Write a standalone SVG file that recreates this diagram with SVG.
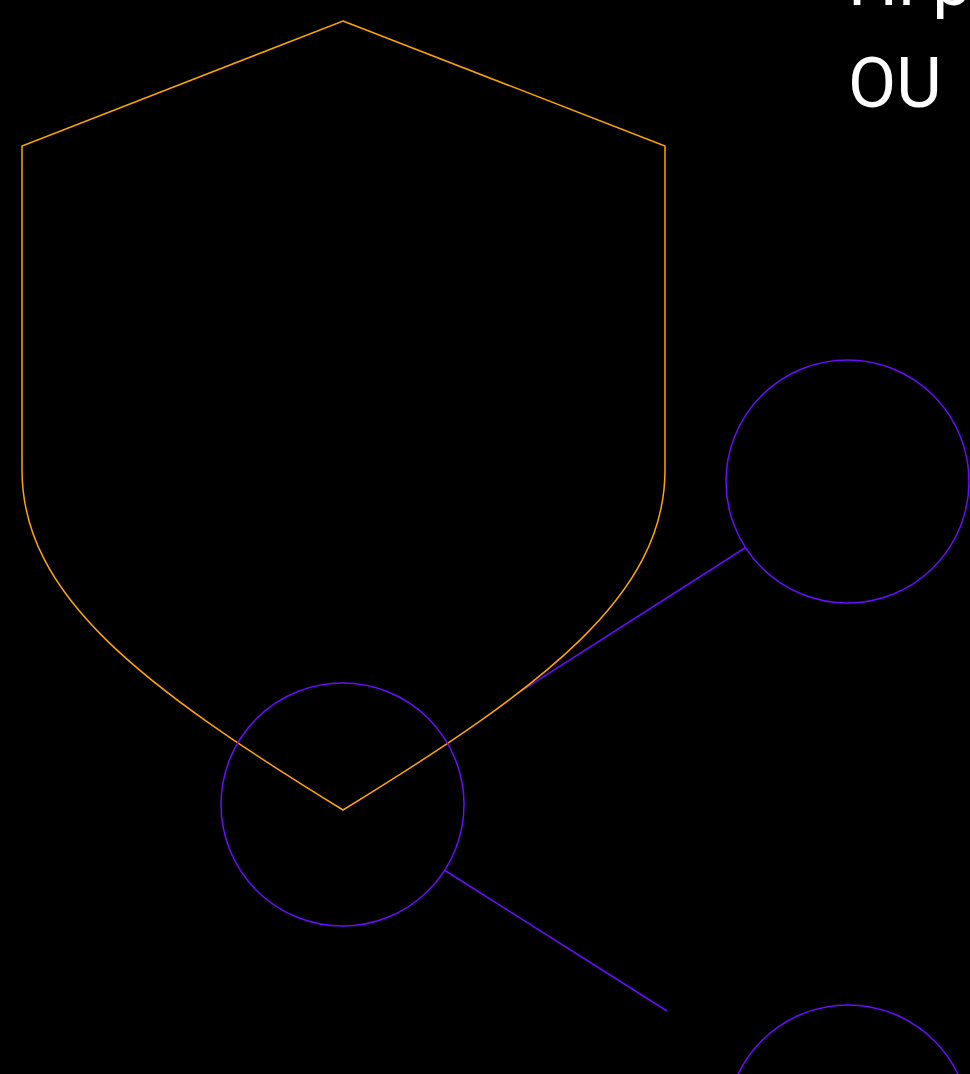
<svg xmlns="http://www.w3.org/2000/svg" width="970" height="1074" viewBox="0 0 970 1074">
<style>
.edge{stroke:#6a0dff;stroke-width:1.5;fill:none}
.node{stroke:#6a0dff;stroke-width:1.5;fill:none}
.shield{stroke:#ffa500;stroke-width:1.5;fill:#000}
.title{fill:#fff;font-family:Roboto,"Liberation Sans",sans-serif;font-size:70px}
</style>
<rect width="970" height="1074" fill="#000"/>
<g id="connectors">
<line class="edge" x1="445.3" y1="739.5" x2="745.7" y2="547.5"/>
<line class="edge" x1="445" y1="870.5" x2="667" y2="1011"/>
</g>
<g id="shield">
<path class="shield" d="M343,21 L665,146 L665,470 C665,595 545,686 343,810 C141,686 22,595 22,470 L22,146 Z"/>
</g>
<g id="node1"><circle class="node" cx="342.5" cy="804.5" r="121.5"/></g>
<g id="node2"><circle class="node" cx="847.5" cy="481.5" r="121.5"/></g>
<g id="node3"><circle class="node" cx="848" cy="1127" r="122"/></g>
<g id="title">
<text class="title" x="848" y="5">Hi p</text>
<text class="title" x="848" y="107">OU</text>
</g>
</svg>
